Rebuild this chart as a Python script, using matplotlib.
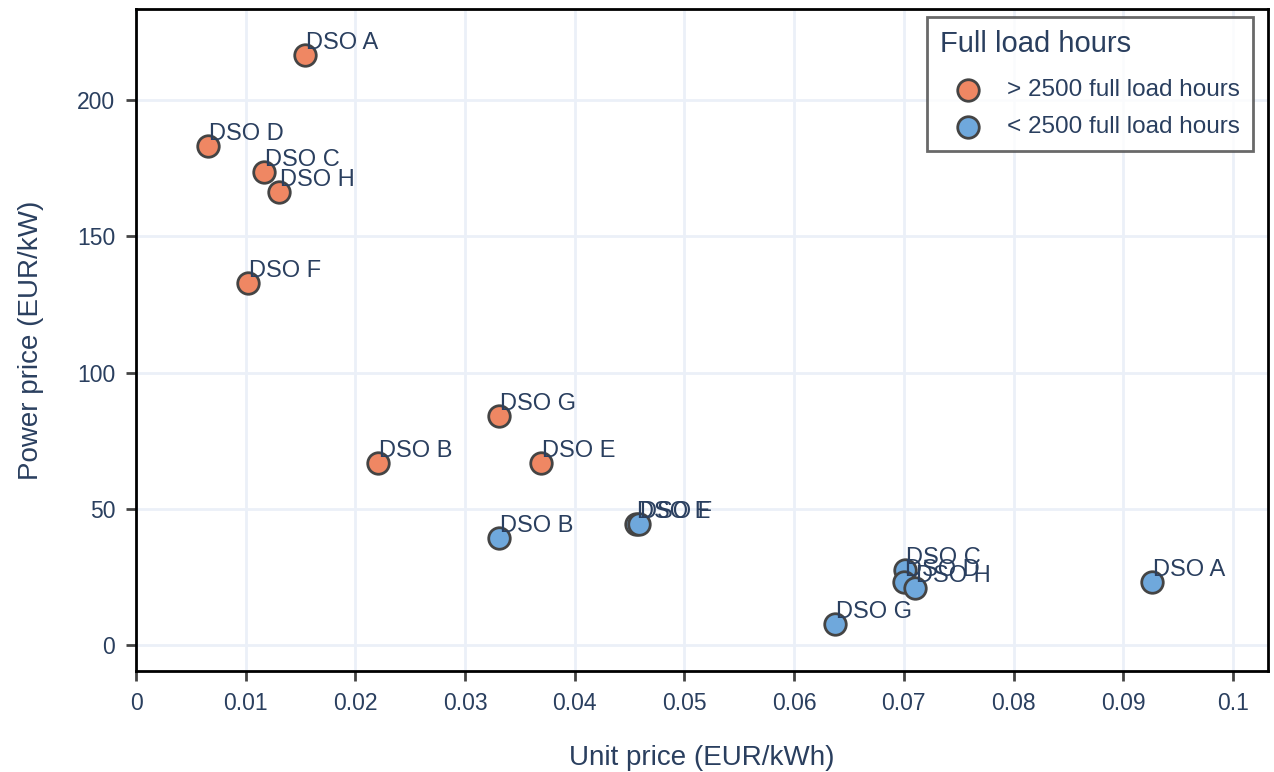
import numpy as np
import matplotlib
matplotlib.use('Agg')
import matplotlib.pyplot as plt

# data
names_hi = ['DSO A', 'DSO D', 'DSO C', 'DSO H', 'DSO F', 'DSO G', 'DSO B', 'DSO E']
unit_hi = [0.0154, 0.00656, 0.01167, 0.0130, 0.0102, 0.0331, 0.0221, 0.0369]
power_hi = [216.5, 183.0, 173.5, 166.2, 132.8, 84.0, 66.8, 66.7]

names_lo = ['DSO B', 'DSO E', 'DSO F', 'DSO C', 'DSO D', 'DSO H', 'DSO G', 'DSO A']
unit_lo = [0.0331, 0.0456, 0.04585, 0.0701, 0.0700, 0.0710, 0.0637, 0.0926]
power_lo = [39.3, 44.5, 44.5, 27.5, 23.2, 21.0, 7.6, 23.0]

xticks = np.round(np.arange(0, 0.1001, 0.01), 2)
xticklabels = ['0', '0.01', '0.02', '0.03', '0.04', '0.05', '0.06', '0.07', '0.08', '0.09', '0.1']
yticks = [0, 50, 100, 150, 200]

txtc = '#2a3f5f'
plt.rcParams['font.family'] = ['Liberation Sans', 'DejaVu Sans']

fig = plt.figure(figsize=(12.74, 7.72), dpi=100)
ax = fig.add_axes([0.1068, 0.1308, 0.8885, 0.8575])

col_hi = '#ef8763'
col_lo = '#6fa8dc'
ax.scatter(unit_hi, power_hi, s=240, c=col_hi, edgecolors='#444444', linewidths=2, zorder=3,
           label='> 2500 full load hours')
ax.scatter(unit_lo, power_lo, s=240, c=col_lo, edgecolors='#444444', linewidths=2, zorder=3,
           label='< 2500 full load hours')

for n, x, y in zip(names_hi, unit_hi, power_hi):
    ax.annotate(n, (x, y), xytext=(0.7, 4.3), textcoords='offset points',
                ha='left', va='baseline', fontsize=17, color=txtc, zorder=4)
for n, x, y in zip(names_lo, unit_lo, power_lo):
    ax.annotate(n, (x, y), xytext=(0.7, 4.3), textcoords='offset points',
                ha='left', va='baseline', fontsize=17, color=txtc, zorder=4)

ax.set_xlim(0, 0.1032)
ax.set_ylim(-9.5, 233.4)
ax.set_xticks(xticks)
ax.set_xticklabels(xticklabels)
ax.set_yticks(yticks)
ax.grid(color='#ebf0f8', linewidth=2, zorder=0)
ax.set_axisbelow(True)
for sp in ax.spines.values():
    sp.set_color('black')
    sp.set_linewidth(2)
ax.tick_params(direction='out', length=7, width=2, color='#444444', labelcolor=txtc,
               labelsize=16.5, pad=8)
ax.set_xlabel('Unit price (EUR/kWh)', fontsize=20, color=txtc, labelpad=22)
ax.set_ylabel('Power price (EUR/kW)', fontsize=20, color=txtc, labelpad=24)

leg = ax.legend(title='Full load hours', loc='upper right', bbox_to_anchor=(0.9867, 0.988),
                borderaxespad=0, fontsize=17.5, title_fontsize=21, frameon=True, fancybox=False,
                borderpad=0.55, handlelength=2.3, handletextpad=0.45,
                labelspacing=0.62, markerscale=1.0)
leg._legend_box.align = 'left'
leg._legend_box.sep = 14.8  # more room under the title
leg.get_frame().set_edgecolor('#444444')
leg.get_frame().set_linewidth(2)
for t in leg.get_texts():
    t.set_color(txtc)
leg.get_title().set_color(txtc)

fig.savefig('out.png', dpi=100)
